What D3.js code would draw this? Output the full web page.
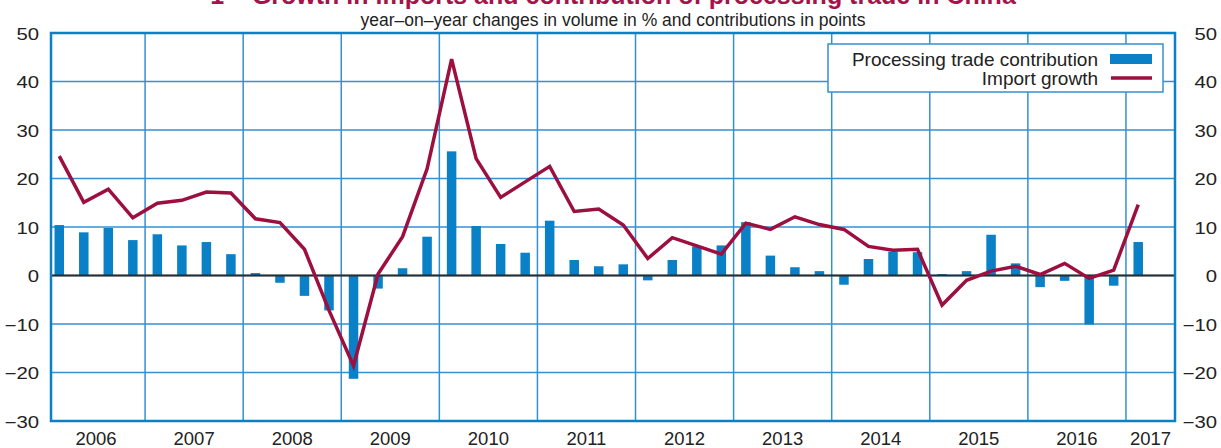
<!DOCTYPE html>
<html>
<head>
<meta charset="utf-8">
<script src="https://cdn.jsdelivr.net/npm/d3@7"></script>
<style>
  body { margin: 0; background: #fff; }
  text { font-family: 'Liberation Sans', Arial, Helvetica, sans-serif; fill: #222; }
</style>
</head>
<body>
<div id="chart"></div>
<script>
'use strict';

// quarters 2006Q1 .. 2017Q1
var quarters = [
  '2006Q1','2006Q2','2006Q3','2006Q4','2007Q1','2007Q2','2007Q3','2007Q4',
  '2008Q1','2008Q2','2008Q3','2008Q4','2009Q1','2009Q2','2009Q3','2009Q4',
  '2010Q1','2010Q2','2010Q3','2010Q4','2011Q1','2011Q2','2011Q3','2011Q4',
  '2012Q1','2012Q2','2012Q3','2012Q4','2013Q1','2013Q2','2013Q3','2013Q4',
  '2014Q1','2014Q2','2014Q3','2014Q4','2015Q1','2015Q2','2015Q3','2015Q4',
  '2016Q1','2016Q2','2016Q3','2016Q4','2017Q1'
];

var processingContribution = [
  10.4, 8.9, 9.8, 7.3,   8.5, 6.2, 6.9, 4.4,   0.5, -1.5, -4.2, -7.2,
  -21.3, -2.7, 1.5, 8.0, 25.6, 10.2, 6.5, 4.7, 11.3, 3.2, 1.9, 2.3,
  -1.0, 3.2, 6.0, 6.2,   11.0, 4.1, 1.7, 0.9,  -1.9, 3.4, 4.9, 4.8,
  0.3, 0.9, 8.4, 2.5,    -2.4, -1.1, -10.1, -2.1, 6.9
];

var importGrowth = [
  24.6, 15.1, 17.8, 11.9, 14.9, 15.5, 17.2, 17.0, 11.7, 10.9, 5.4, -7.2,
  -18.6, 0.3, 8.0, 22.0,  44.6, 24.1, 16.1, 19.3, 22.5, 13.2, 13.7, 10.4,
  3.5, 7.8, 6.1, 4.4,     10.8, 9.5, 12.1, 10.5, 9.5, 6.0, 5.2, 5.4,
  -6.1, -1.0, 0.9, 1.9,   0.2, 2.5, -0.6, 1.1, 14.6
];

var yearLabels = ['2006','2007','2008','2009','2010','2011','2012','2013','2014','2015','2016','2017'];
var yTicks = [-30, -20, -10, 0, 10, 20, 30, 40, 50];

var seriesNames = ['Processing trade contribution', 'Import growth'];
var titleText = '1 \u2013 Growth in imports and contribution of processing trade in China';
var subtitleText = 'year\u2013on\u2013year changes in volume in % and contributions in points';

var chart = {};
chart.w = 1221;
chart.h = 448;
chart.plot = {left: 51, right: 1175, top: 33, bottom: 421};
chart.blue = '#0a80c6';
chart.grid = '#3590d0';
chart.red = '#9c0f3e';
chart.barWidth = 9.5;

// x domain runs in quarters from start of 2006 to end of 2017Q2; the left edge is slightly cut
chart.x = d3.scaleLinear().domain([0, 46]).range([47, chart.plot.right]);
chart.y = d3.scaleLinear().domain([-30, 50]).range([chart.plot.bottom, chart.plot.top]);

chart.fmt = function (v) { return v < 0 ? '\u2212' + Math.abs(v) : String(v); };

chart.appendSvg = function (div) {
  return d3.select(div).append('svg')
    .attr('width', chart.w)
    .attr('height', chart.h);
};

chart.drawTitles = function (svg) {
  var mid = (chart.plot.left + chart.plot.right) / 2;
  svg.append('text')
    .attr('x', mid).attr('y', 4)
    .attr('text-anchor', 'middle')
    .attr('font-size', '25px')
    .attr('font-weight', 'bold')
    .style('fill', '#a6124a')
    .text(titleText);
  svg.append('text')
    .attr('x', mid).attr('y', 26)
    .attr('text-anchor', 'middle')
    .attr('font-size', '17.5px')
    .text(subtitleText);
};

chart.drawGrid = function (svg) {
  var p = chart.plot, x = chart.x, y = chart.y;
  svg.append('g').selectAll('line')
    .data(yTicks)
    .enter().append('line')
    .attr('x1', p.left).attr('x2', p.right)
    .attr('y1', function (d) { return y(d); })
    .attr('y2', function (d) { return y(d); })
    .attr('stroke', chart.grid)
    .attr('stroke-width', 1.5);
  var bounds = d3.range(1, yearLabels.length);
  svg.append('g').selectAll('line')
    .data(bounds)
    .enter().append('line')
    .attr('x1', function (d) { return x(d * 4); })
    .attr('x2', function (d) { return x(d * 4); })
    .attr('y1', p.top).attr('y2', p.bottom)
    .attr('stroke', chart.grid)
    .attr('stroke-width', 1.5);
};

chart.drawBars = function (svg) {
  var x = chart.x, y = chart.y;
  svg.append('g').selectAll('rect')
    .data(processingContribution)
    .enter().append('rect')
    .attr('x', function (d, i) { return x(i + 0.5) - chart.barWidth / 2; })
    .attr('y', function (d) { return y(Math.max(0, d)); })
    .attr('width', chart.barWidth)
    .attr('height', function (d) { return Math.abs(y(d) - y(0)); })
    .attr('fill', chart.blue);

  svg.append('line')
    .attr('x1', chart.plot.left).attr('x2', chart.plot.right)
    .attr('y1', y(0)).attr('y2', y(0))
    .attr('stroke', '#2b2b2b')
    .attr('stroke-width', 2);
};

chart.drawLine = function (svg) {
  var x = chart.x, y = chart.y;
  var line = d3.line()
    .x(function (d, i) { return x(i + 0.5); })
    .y(function (d) { return y(d); });
  svg.append('path')
    .datum(importGrowth)
    .attr('d', line)
    .attr('fill', 'none')
    .attr('stroke', chart.red)
    .attr('stroke-width', 3.5)
    .attr('stroke-linejoin', 'miter');
};

chart.drawFrame = function (svg) {
  var p = chart.plot;
  svg.append('rect')
    .attr('x', p.left).attr('y', p.top)
    .attr('width', p.right - p.left)
    .attr('height', p.bottom - p.top)
    .attr('fill', 'none')
    .attr('stroke', chart.blue)
    .attr('stroke-width', 2.5);
};

chart.drawAxes = function (svg) {
  var sides = [chart.plot.left - 12, 1217];
  sides.forEach(function (pos) {
    var g = svg.append('g')
      .attr('transform', 'translate(' + pos + ',0)')
      .call(d3.axisLeft(chart.y).tickValues(yTicks).tickSize(0).tickPadding(0).tickFormat(chart.fmt));
    g.select('.domain').remove();
    g.selectAll('text')
      .attr('font-size', '16px')
      .attr('font-family', null)
      .attr('dy', '0.4em')
      .attr('transform', 'scale(1.27,1)')
      .style('fill', '#222');
  });

  var x = chart.x;
  svg.append('g').selectAll('text')
    .data(yearLabels)
    .enter().append('text')
    .attr('x', function (d, i) {
      var a = x(i * 4), b = Math.min(x(i * 4 + 4), chart.plot.right);
      return (a + b) / 2;
    })
    .attr('y', 445)
    .attr('text-anchor', 'middle')
    .attr('font-size', '18.5px')
    .text(function (d) { return d; });
};

chart.drawLegend = function (svg) {
  var g = svg.append('g').attr('transform', 'translate(828,44)');
  g.append('rect')
    .attr('width', 335).attr('height', 48)
    .attr('fill', '#fff')
    .attr('stroke', chart.grid)
    .attr('stroke-width', 1.5);
  g.selectAll('text')
    .data(seriesNames)
    .enter().append('text')
    .attr('x', 270)
    .attr('y', function (d, i) { return 22 + i * 18.5; })
    .attr('text-anchor', 'end')
    .attr('font-size', '19px')
    .text(function (d) { return d; });
  g.append('rect')
    .attr('x', 282).attr('y', 10)
    .attr('width', 42).attr('height', 10)
    .attr('fill', chart.blue);
  g.append('line')
    .attr('x1', 283).attr('x2', 324)
    .attr('y1', 34).attr('y2', 34)
    .attr('stroke', chart.red)
    .attr('stroke-width', 3.5);
};

function drawChart(div) {
  var svg = chart.appendSvg(div);
  chart.drawTitles(svg);
  chart.drawGrid(svg);
  chart.drawBars(svg);
  chart.drawLine(svg);
  chart.drawFrame(svg);
  chart.drawAxes(svg);
  chart.drawLegend(svg);
}

drawChart('#chart');
</script>
</body>
</html>
